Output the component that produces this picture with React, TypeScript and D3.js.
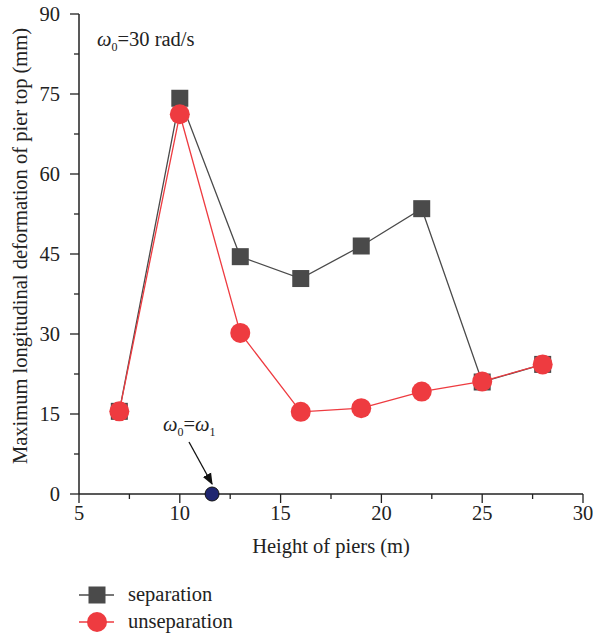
import React from "react";
import * as d3 from "d3";

const heights = [7, 10, 13, 16, 19, 22, 25, 28];
const separation = [15.5, 74.2, 44.5, 40.4, 46.5, 53.5, 21.0, 24.3];
const unseparation = [15.5, 71.2, 30.2, 15.4, 16.1, 19.2, 21.1, 24.3];
const xTicks = [5, 10, 15, 20, 25, 30];
const yTicks = [0, 15, 30, 45, 60, 75, 90];
const resonance = { x: 11.6, y: 0 };

const W = 593, H = 637;
const M = { left: 79, right: 10, top: 14, bottom: 143 };
const FONT = "'Liberation Serif', 'DejaVu Serif', serif";
const GREY = "#4a4a4a";
const RED = "#ee3b40";

export default function App() {
  const x = d3.scaleLinear().domain([5, 30]).range([M.left, W - M.right]);
  const y = d3.scaleLinear().domain([0, 90]).range([H - M.bottom, M.top]);
  const line = d3.line<number>().x((_, i) => x(heights[i])).y(d => y(d));
  const xMinor = d3.range(5, 30.01, 2.5).filter(v => !xTicks.includes(v));
  const yMinor = d3.range(0, 90.01, 7.5).filter(v => !yTicks.includes(v));
  const sq = 17;

  return (
    <svg width={W} height={H} style={{ display: "block", position: "absolute", left: 0, top: 0 }} fontFamily={FONT}>
      <defs>
        <marker id="arr" viewBox="0 0 10 10" refX="9" refY="5" markerWidth="9" markerHeight="9" orient="auto">
          <path d="M0,1 L10,5 L0,9 Z" fill="#111" />
        </marker>
      </defs>
      <rect width={W} height={H} fill="#fff" />

      {/* axes */}
      <line x1={x(5)} x2={x(5)} y1={y(0)} y2={y(90)} stroke="#222" strokeWidth={1.5} />
      <line x1={x(5)} x2={x(30)} y1={y(0)} y2={y(0)} stroke="#222" strokeWidth={1.5} />
      {yTicks.map(t => (
        <g key={"y" + t}>
          <line x1={x(5) - 9} x2={x(5)} y1={y(t)} y2={y(t)} stroke="#222" strokeWidth={1.3} />
          <text x={x(5) - 19} y={y(t) + 7} fontSize={20.5} textAnchor="end" fill="#222">{t}</text>
        </g>
      ))}
      {yMinor.map(t => (
        <line key={"ym" + t} x1={x(5) - 5} x2={x(5)} y1={y(t)} y2={y(t)} stroke="#222" strokeWidth={1.3} />
      ))}
      {xTicks.map(t => (
        <g key={"x" + t}>
          <line x1={x(t)} x2={x(t)} y1={y(0)} y2={y(0) + 9} stroke="#222" strokeWidth={1.3} />
          <text x={x(t)} y={y(0) + 26} fontSize={20.5} textAnchor="middle" fill="#222">{t}</text>
        </g>
      ))}
      {xMinor.map(t => (
        <line key={"xm" + t} x1={x(t)} x2={x(t)} y1={y(0)} y2={y(0) + 5} stroke="#222" strokeWidth={1.3} />
      ))}
      <text x={(x(5) + x(30)) / 2} y={553} fontSize={20.5} textAnchor="middle" fill="#222">Height of piers (m)</text>
      <text transform={`translate(27,246) rotate(-90)`} fontSize={20.5} textAnchor="middle" fill="#222">
        Maximum longitudinal deformation of pier top (mm)
      </text>

      {/* separation */}
      <path d={line(separation) ?? ""} fill="none" stroke={GREY} strokeWidth={1.3} />
      {separation.map((v, i) => (
        <rect key={"s" + i} x={x(heights[i]) - sq / 2} y={y(v) - sq / 2} width={sq} height={sq} fill={GREY} />
      ))}
      {/* unseparation */}
      <path d={line(unseparation) ?? ""} fill="none" stroke={RED} strokeWidth={1.3} />
      {unseparation.map((v, i) => (
        <circle key={"u" + i} cx={x(heights[i])} cy={y(v)} r={10} fill={RED} />
      ))}

      {/* annotations */}
      <text x={97} y={46} fontSize={20.5} fill="#222">
        <tspan fontStyle="italic">ω</tspan>
        <tspan fontSize={12} dy={5}>0</tspan>
        <tspan dy={-5}>=30 rad/s</tspan>
      </text>
      <text x={163} y={431} fontSize={20.5} fill="#222">
        <tspan fontStyle="italic">ω</tspan>
        <tspan fontSize={12} dy={5}>0</tspan>
        <tspan dy={-5}>=</tspan>
        <tspan fontStyle="italic">ω</tspan>
        <tspan fontSize={12} dy={5}>1</tspan>
      </text>
      <line x1={189} y1={442} x2={x(resonance.x)} y2={y(resonance.y) - 10} stroke="#111" strokeWidth={1.3} markerEnd="url(#arr)" />
      <circle cx={x(resonance.x)} cy={y(resonance.y)} r={7} fill="#1f2670" stroke="#111" strokeWidth={1} />

      {/* legend */}
      <line x1={79} x2={114} y1={595} y2={595} stroke={GREY} strokeWidth={1.3} />
      <rect x={97 - sq / 2} y={595 - sq / 2} width={sq} height={sq} fill={GREY} />
      <text x={128} y={601} fontSize={20.5} fill="#222">separation</text>
      <line x1={79} x2={114} y1={622} y2={622} stroke={RED} strokeWidth={1.3} />
      <circle cx={97} cy={622} r={10} fill={RED} />
      <text x={128} y={628} fontSize={20.5} fill="#222">unseparation</text>
    </svg>
  );
}
